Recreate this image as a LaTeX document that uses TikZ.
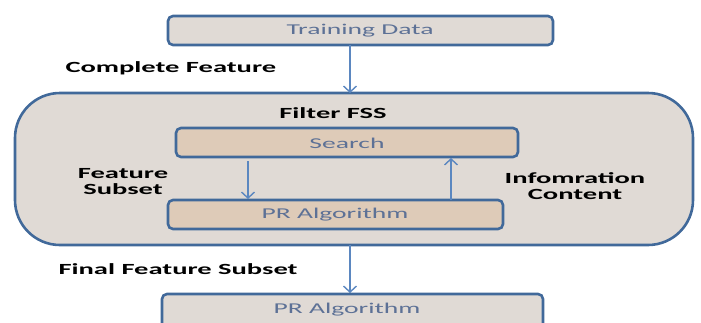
\documentclass[tikz,border=0pt]{standalone}
\usepackage{fontspec}
\setmainfont{Carlito}
\usetikzlibrary{arrows.meta}
\definecolor{boxline}{HTML}{41699A}
\definecolor{arrowblue}{HTML}{5B87C0}
\definecolor{greyfill}{HTML}{E0DAD5}
\definecolor{tanfill}{HTML}{DECBB8}
\definecolor{boxtext}{HTML}{5D7196}
\newcommand{\wtext}[1]{\scalebox{1.84}[1]{#1}}
\tikzset{
  procbox/.style={draw=boxline, line width=2.6pt, rounded corners=5pt, fill=greyfill},
  innerbox/.style={draw=boxline, line width=2.6pt, rounded corners=5pt, fill=tanfill},
  boxlabel/.style={text=boxtext, font=\fontsize{15}{17}\selectfont},
  caption/.style={text=black, font=\bfseries\fontsize{15.5}{17}\selectfont, align=center},
  flow/.style={draw=arrowblue, line width=1.6pt, -{Straight Barb[length=6pt,width=13pt,line width=1.4pt]}}
}
\begin{document}
\begin{tikzpicture}[x=1pt,y=-1pt]
  \useasboundingbox (0,0) rectangle (701,322);
  % outer filter block
  \draw[draw=boxline, line width=2.6pt, rounded corners=45pt, fill=greyfill] (15,93) rectangle (693,245);
  \node[caption] (filter) at (333,113) {\wtext{Filter FSS}};
  % top input
  \draw[procbox] (168,16) rectangle (553,45);
  \node[boxlabel] (train) at (360,31) {\wtext{Training Data}};
  \coordinate (trainbot) at (350,45);
  \coordinate (outertop) at (350,93);
  \coordinate (outerbot) at (350,245);
  \coordinate (lowtop) at (350,293);
  \draw[flow] (trainbot) -- (outertop);
  \node[caption, anchor=west] (complete) at (62,68) {\wtext{Complete Feature}};
  % inner boxes
  \draw[innerbox] (176,128) rectangle (518,157);
  \node[boxlabel] (search) at (347,143) {\wtext{Search}};
  \draw[innerbox] (168,200) rectangle (503,229);
  \node[boxlabel] (pr) at (335,214.5) {\wtext{PR Algorithm}};
  \coordinate (sdown) at (248,161);
  \coordinate (pdown) at (248,199);
  \coordinate (pup) at (451,200);
  \coordinate (sup) at (451,158);
  \draw[flow] (sdown) -- (pdown);
  \draw[flow] (pup) -- (sup);
  \node[caption] (fsub) at (123,182) {\wtext{Feature}\\[-1pt]\wtext{Subset}};
  \node[caption] (info) at (575,186) {\wtext{Infomration}\\[-1pt]\wtext{Content}};
  % output
  \draw[flow] (outerbot) -- (lowtop);
  \node[caption, anchor=west] (final) at (55,269) {\wtext{Final Feature Subset}};
  \draw[procbox] (162,294) rectangle (543,336);
  \node[boxlabel] (prout) at (347,310) {\wtext{PR Algorithm}};
\end{tikzpicture}
\end{document}
